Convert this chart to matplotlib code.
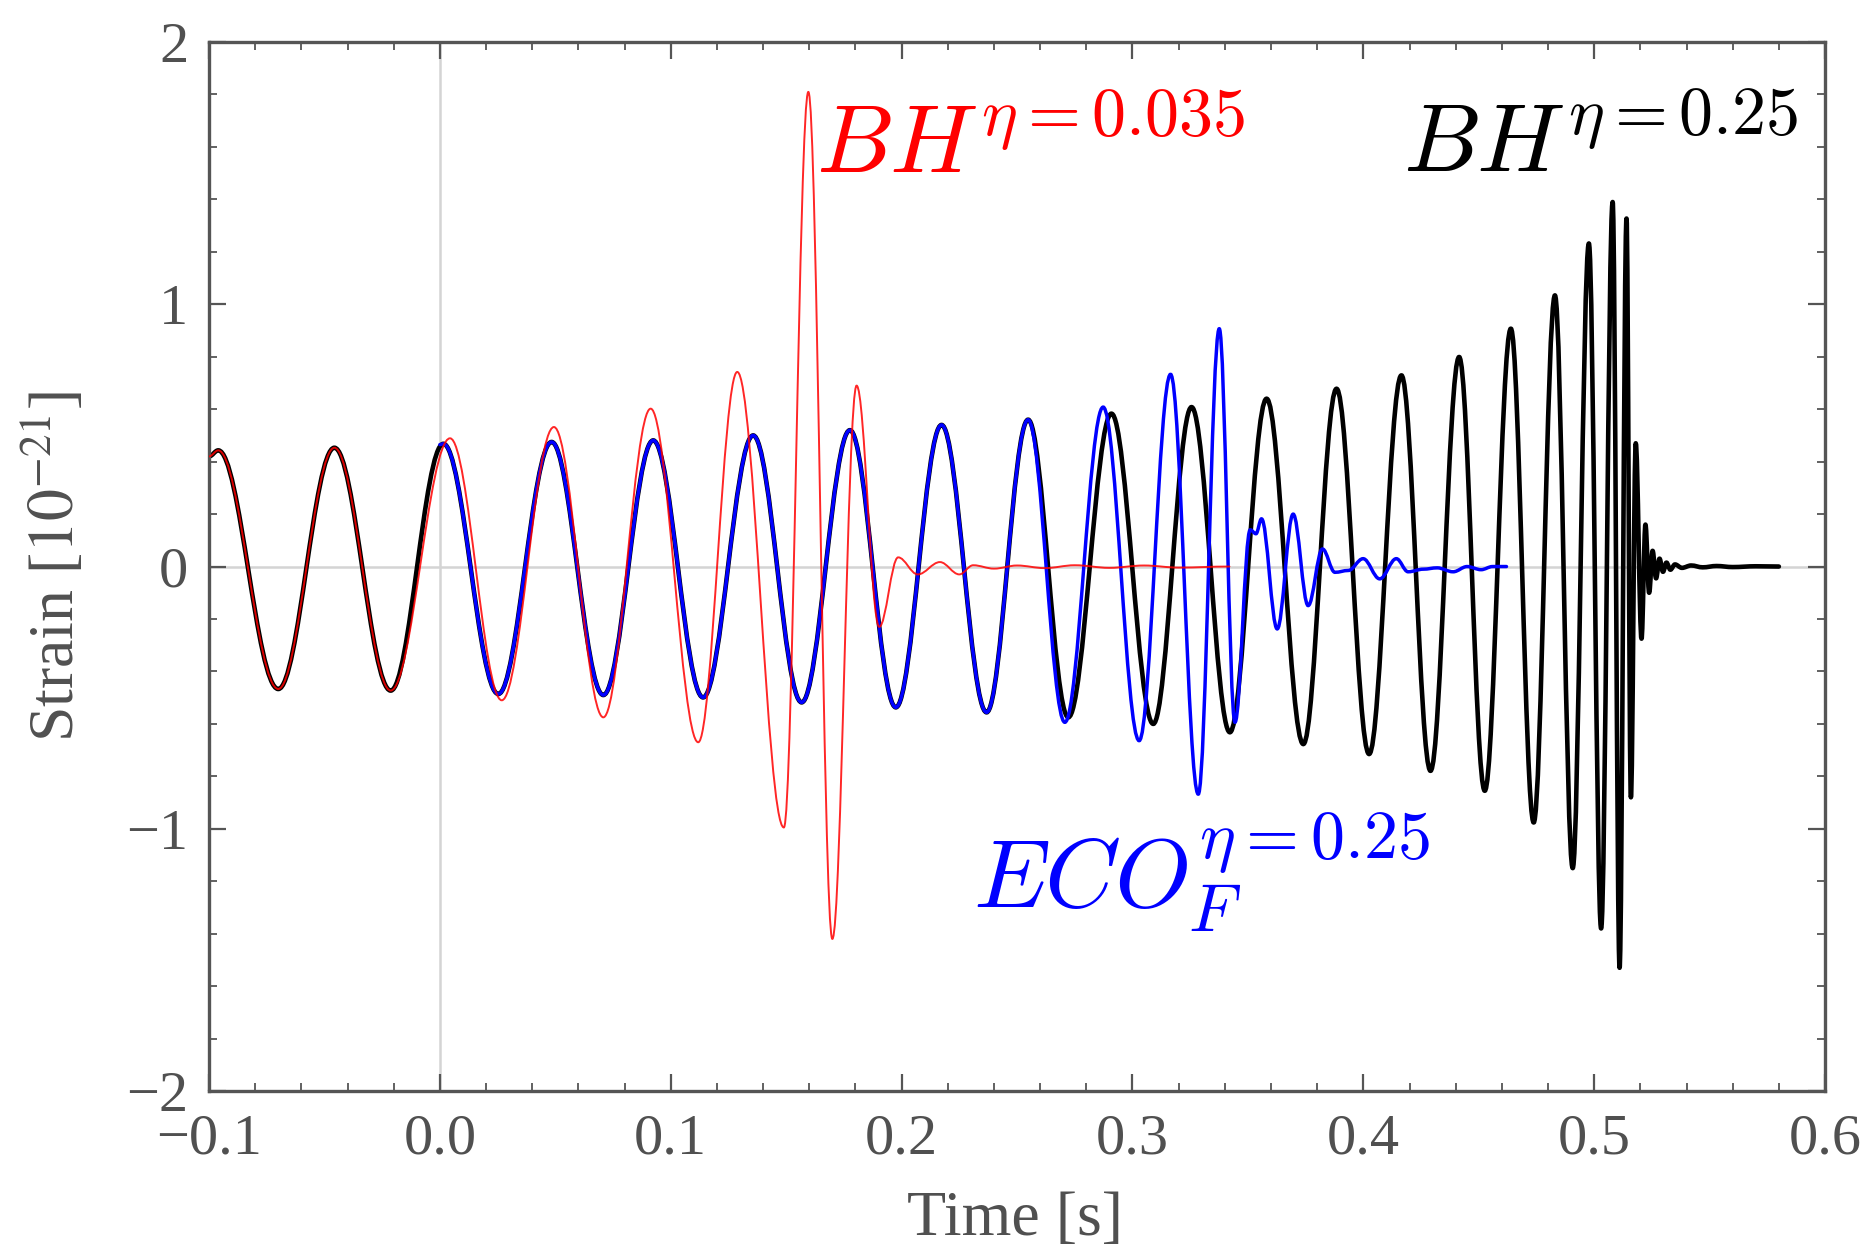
import matplotlib
matplotlib.use("Agg")
import matplotlib.pyplot as plt
from matplotlib.path import Path
from matplotlib.patches import PathPatch
from matplotlib.ticker import MultipleLocator, FixedLocator

# ---- data: extrema (time [s], strain [1e-21]) ----
bh25_t = [-0.100, -0.096, -0.070, -0.0457, -0.0213, 0.0015, 0.0253, 0.0484, 0.0708,
          0.0924, 0.1140, 0.1357, 0.1567, 0.1776, 0.1975, 0.2173, 0.2368, 0.2548,
          0.2722, 0.2909, 0.3090, 0.3256, 0.3422, 0.3581, 0.3740, 0.3884, 0.4025,
          0.4165, 0.4291, 0.4415, 0.4526, 0.4639, 0.4738, 0.4830, 0.4907, 0.4977,
          0.5030, 0.5080, 0.5110, 0.5140, 0.5159, 0.5180, 0.5205, 0.5222, 0.5238,
          0.5253, 0.5268, 0.5283, 0.5298, 0.5313, 0.5330, 0.5350, 0.5380, 0.5420,
          0.5470, 0.5530, 0.5600, 0.5700, 0.5800]
bh25_h = [0.42, 0.443, -0.467, 0.453, -0.473, 0.468, -0.486, 0.475, -0.490,
          0.481, -0.499, 0.500, -0.518, 0.520, -0.537, 0.540, -0.556, 0.560,
          -0.575, 0.583, -0.600, 0.608, -0.632, 0.640, -0.677, 0.678, -0.715,
          0.729, -0.779, 0.799, -0.855, 0.907, -0.976, 1.034, -1.150, 1.232,
          -1.380, 1.390, -1.530, 1.327, -0.880, 0.470, -0.275, 0.160, -0.100,
          0.060, -0.045, 0.030, -0.020, 0.015, -0.012, 0.008, -0.005, 0.004,
          -0.003, 0.002, -0.002, 0.001, 0.0]

bh035_t = [-0.100, -0.096, -0.070, -0.0457, -0.0213, 0.0044, 0.0268, 0.0494, 0.0708,
           0.0913, 0.1119, 0.1288, 0.1490, 0.1596, 0.1700, 0.1805, 0.1903, 0.1985,
           0.2070, 0.2166, 0.2250, 0.2310, 0.2400, 0.2500, 0.2620, 0.2750, 0.2900,
           0.3050, 0.3200, 0.3420]
bh035_h = [0.42, 0.443, -0.467, 0.453, -0.473, 0.489, -0.510, 0.532, -0.575,
           0.602, -0.670, 0.742, -0.995, 1.810, -1.420, 0.690, -0.230, 0.035,
           -0.030, 0.017, -0.030, 0.005, -0.008, 0.004, -0.006, 0.005, -0.005,
           0.004, -0.004, 0.0]

eco_t = [0.000, 0.0015, 0.0253, 0.0484, 0.0708, 0.0924, 0.1140, 0.1357, 0.1567,
         0.1776, 0.1975, 0.2173, 0.2368, 0.2548, 0.2707, 0.2873, 0.3029, 0.3165,
         0.3285, 0.3376, 0.3444, 0.3510, 0.3535, 0.3559, 0.3627, 0.3696, 0.3761,
         0.3823, 0.3877, 0.3935, 0.3999, 0.4071, 0.4143, 0.4194, 0.4260, 0.4320,
         0.4389, 0.4450, 0.4510, 0.4560, 0.4620]
eco_h = [0.465, 0.468, -0.486, 0.475, -0.490, 0.481, -0.499, 0.500, -0.518,
         0.520, -0.537, 0.540, -0.556, 0.560, -0.594, 0.608, -0.664, 0.733,
         -0.868, 0.907, -0.594, 0.140, 0.125, 0.182, -0.238, 0.200, -0.149,
         0.067, -0.022, -0.015, 0.030, -0.047, 0.030, -0.020, -0.010, -0.005,
         -0.020, 0.000, -0.012, 0.000, 0.0]

x_ticks = [-0.1, 0.0, 0.1, 0.2, 0.3, 0.4, 0.5, 0.6]
x_ticklabels = ["\u22120.1", "0.0", "0.1", "0.2", "0.3", "0.4", "0.5", "0.6"]
y_ticks = [-2, -1, 0, 1, 2]
y_ticklabels = ["\u22122", "\u22121", "0", "1", "2"]


def wave_path(t, h, a=0.363):
    """Smooth path through the extrema, horizontal tangent at each one."""
    verts = [(t[0], h[0])]
    codes = [Path.MOVETO]
    for i in range(len(t) - 1):
        dt = t[i + 1] - t[i]
        verts += [(t[i] + a * dt, h[i]), (t[i + 1] - a * dt, h[i + 1]), (t[i + 1], h[i + 1])]
        codes += [Path.CURVE4] * 3
    return Path(verts, codes)


fig = plt.figure(figsize=(18.73, 12.58), dpi=100)
ax = fig.add_axes([0.1116, 0.1327, 0.8628, 0.8339])
ax.set_xlim(-0.1, 0.6)
ax.set_ylim(-2, 2)

ax.axvline(0, color="#d4d4d4", lw=1.8, zorder=0)
ax.axhline(0, color="#d4d4d4", lw=1.8, zorder=0)

ax.add_patch(PathPatch(wave_path(bh25_t, bh25_h), fill=False, edgecolor="black",
                       lw=3.3, capstyle="round", joinstyle="round", zorder=2))
ax.add_patch(PathPatch(wave_path(eco_t, eco_h), fill=False, edgecolor="#0000ff",
                       lw=2.5, capstyle="round", joinstyle="round", zorder=3))
ax.add_patch(PathPatch(wave_path(bh035_t, bh035_h), fill=False, edgecolor="#ff0000",
                       lw=1.4, alpha=0.85, capstyle="round", joinstyle="round", zorder=4))

lab_kw = dict(fontsize=70, math_fontfamily="cm", ha="left", va="baseline")
ax.text(0.163, 1.50, r"$BH^{\eta=0.035}$", color="#ff0000", **lab_kw)
ax.text(0.417, 1.505, r"$BH^{\eta=0.25}$", color="black", **lab_kw)
ax.text(0.231, -1.30, r"$ECO_F^{\eta=0.25}$", color="#0000ff", **lab_kw)

# axes styling
spine_col = "#555555"
for s in ax.spines.values():
    s.set_color(spine_col)
    s.set_linewidth(2.4)

ax.xaxis.set_major_locator(FixedLocator(x_ticks))
ax.set_xticklabels(x_ticklabels)
ax.yaxis.set_major_locator(FixedLocator(y_ticks))
ax.set_yticklabels(y_ticklabels)
ax.xaxis.set_minor_locator(MultipleLocator(0.02))
ax.yaxis.set_minor_locator(MultipleLocator(0.2))
ax.tick_params(which="both", direction="in", top=True, right=True, color=spine_col)
ax.tick_params(which="major", length=12, width=1.6, labelsize=42, labelcolor="#505050")
ax.tick_params(axis="x", which="major", pad=16)
ax.tick_params(axis="y", which="major", pad=15)
ax.tick_params(which="minor", length=6, width=1.3)
for lbl in ax.get_xticklabels() + ax.get_yticklabels():
    lbl.set_fontfamily("Liberation Serif")

ax.set_xlabel("Time [s]", fontsize=46, color="#505050", family="Liberation Serif")
ax.set_ylabel(r"Strain [$10^{-21}$]", fontsize=46, color="#505050",
              family="Liberation Serif", math_fontfamily="stix")
ax.xaxis.set_label_coords(0.499, -0.095)
ax.yaxis.set_label_coords(-0.075, 0.5)

fig.savefig("out.png", dpi=100)
